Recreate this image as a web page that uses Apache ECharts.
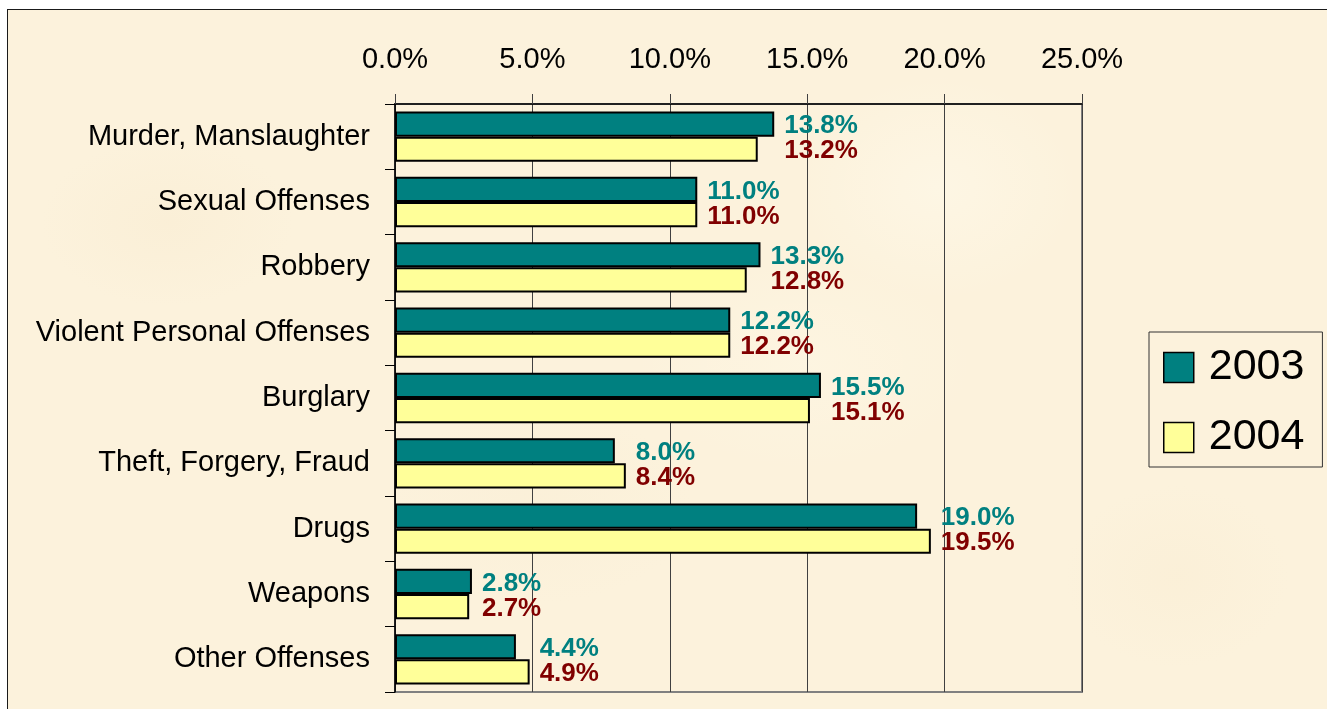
<!DOCTYPE html>
<html>
<head>
<meta charset="utf-8">
<script src="https://cdn.jsdelivr.net/npm/echarts@6/dist/echarts.min.js"></script>
<style>
  html, body { margin: 0; padding: 0; background: #ffffff; width: 1327px; height: 709px; overflow: hidden; }
  #frame {
    position: absolute; left: 7px; top: 9px; width: 1330px; height: 710px;
    border: 1px solid #1a1a1a; box-sizing: border-box;
    background-color: #FCF2DC;
    background-image:
      radial-gradient(ellipse 180px 120px at 12% 30%, rgba(247,233,205,0.35), rgba(247,233,205,0) 70%),
      radial-gradient(ellipse 220px 140px at 40% 70%, rgba(248,235,208,0.3), rgba(248,235,208,0) 70%),
      radial-gradient(ellipse 200px 160px at 70% 25%, rgba(255,250,236,0.5), rgba(255,250,236,0) 70%),
      radial-gradient(ellipse 160px 130px at 88% 80%, rgba(248,234,206,0.3), rgba(248,234,206,0) 70%),
      radial-gradient(ellipse 240px 150px at 60% 50%, rgba(255,249,232,0.4), rgba(255,249,232,0) 70%);
  }
  #chart { position: absolute; left: 0; top: 0; width: 1327px; height: 709px; }
</style>
</head>
<body>
<div id="frame"></div>
<div id="chart"></div>
<script>
// ---- data ----
const categories = [
  'Murder, Manslaughter',
  'Sexual Offenses',
  'Robbery',
  'Violent Personal Offenses',
  'Burglary',
  'Theft, Forgery, Fraud',
  'Drugs',
  'Weapons',
  'Other Offenses'
];
const seriesNames = ['2003', '2004'];
const values2003 = [13.8, 11.0, 13.3, 12.2, 15.5, 8.0, 19.0, 2.8, 4.4];
const values2004 = [13.2, 11.0, 12.8, 12.2, 15.1, 8.4, 19.5, 2.7, 4.9];
const axisMin = 0, axisMax = 25, axisStep = 5;

// ---- layout ----
const gridLeft = 395, gridTop = 104, gridWidth = 687, gridHeight = 588;
const pxPerUnit = gridWidth / (axisMax - axisMin);
const FONT = '"Liberation Sans", Arial, Helvetica, sans-serif';

function withAlignedLabels(vals, other) {
  return vals.map(function (v, i) {
    const m = Math.max(v, other[i]);
    return { value: v, label: { offset: [(m - v) * pxPerUnit, 2] } };
  });
}

const chart = echarts.init(document.getElementById('chart'), null, { renderer: 'canvas' });
const option = {
  backgroundColor: 'transparent',
  animation: false,
  grid: {
    left: gridLeft, top: gridTop, width: gridWidth, height: gridHeight,
    show: true, borderColor: '#808080', borderWidth: 2, backgroundColor: 'transparent'
  },
  legend: {
    data: seriesNames,
    orient: 'vertical',
    left: 1149, top: 332,
    itemWidth: 30, itemHeight: 30, itemGap: 27,
    icon: 'rect',
    borderColor: '#333333', borderWidth: 1,
    padding: [14, 18, 8, 14],
    textStyle: { fontFamily: FONT, fontSize: 43, lineHeight: 43, color: '#000', padding: [0, 0, 0, 10] },
    itemStyle: { borderColor: '#000', borderWidth: 1.5 }
  },
  xAxis: {
    type: 'value', position: 'top',
    min: axisMin, max: axisMax, interval: axisStep,
    axisLine: { show: true, lineStyle: { color: '#000', width: 1.5 } },
    axisTick: { show: true, length: 10, lineStyle: { color: '#404040', width: 1 } },
    splitLine: { show: true, lineStyle: { color: '#404040', width: 1 } },
    axisLabel: {
      margin: 30, fontFamily: FONT, fontSize: 29, color: '#000',
      formatter: function (v) { return v.toFixed(1) + '%'; }
    }
  },
  yAxis: {
    type: 'category', inverse: true, data: categories,
    axisLine: { show: true, lineStyle: { color: '#000', width: 1.5 } },
    axisTick: { show: true, length: 10, alignWithLabel: false, lineStyle: { color: '#000', width: 1 } },
    axisLabel: { margin: 25, fontFamily: FONT, fontSize: 29, color: '#000' }
  },
  series: [
    {
      name: seriesNames[0], type: 'bar',
      data: withAlignedLabels(values2003, values2004),
      barGap: '0%', barCategoryGap: '23%',
      itemStyle: { color: '#008080', borderColor: '#000', borderWidth: 2 },
      label: {
        show: true, position: 'right', distance: 10,
        fontFamily: FONT, fontSize: 26, fontWeight: 'bold', color: '#008080',
        formatter: function (p) { return p.value.toFixed(1) + '%'; }
      }
    },
    {
      name: seriesNames[1], type: 'bar',
      data: withAlignedLabels(values2004, values2003),
      barGap: '0%', barCategoryGap: '23%',
      itemStyle: { color: '#FFFF99', borderColor: '#000', borderWidth: 2 },
      label: {
        show: true, position: 'right', distance: 10,
        fontFamily: FONT, fontSize: 26, fontWeight: 'bold', color: '#800000',
        formatter: function (p) { return p.value.toFixed(1) + '%'; }
      }
    }
  ]
};
chart.setOption(option);
</script>
</body>
</html>
